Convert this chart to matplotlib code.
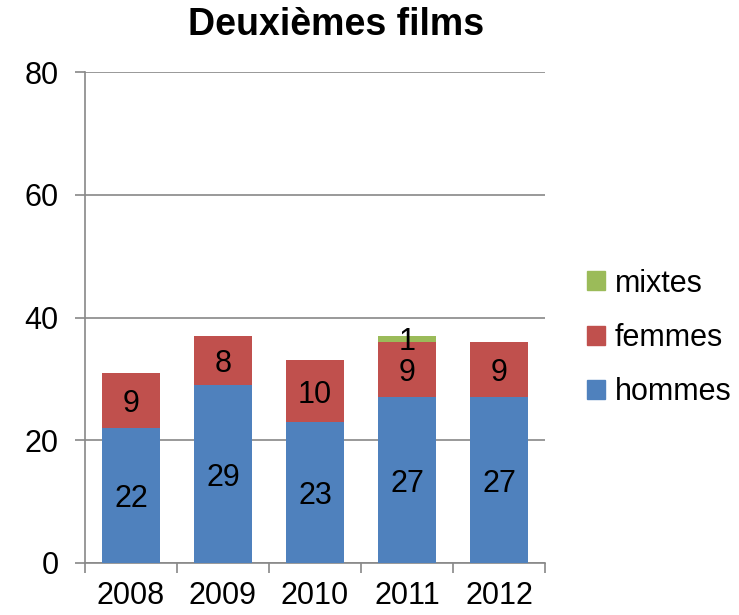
import numpy as np
import matplotlib
matplotlib.use('Agg')
import matplotlib.pyplot as plt
from matplotlib.patches import Patch

plt.rcParams['font.family'] = ['Liberation Sans', 'DejaVu Sans']

years = ['2008', '2009', '2010', '2011', '2012']
hommes = [22, 29, 23, 27, 27]
femmes = [9, 8, 10, 9, 9]
mixtes = [0, 0, 0, 1, 0]

c_h = '#4F81BD'
c_f = '#C0504D'
c_m = '#9BBB59'
grey = '#888888'
fs = 22

fig = plt.figure(figsize=(7.39, 6.15), dpi=100)
ax = fig.add_axes([85/739, 1-563/615, 460/739, 491/615])

x = np.arange(len(years))
w = 0.62
h = np.array(hommes)
f = np.array(femmes)
m = np.array(mixtes)
ax.bar(x, h, w, color=c_h, zorder=3)
ax.bar(x, f, w, bottom=h, color=c_f, zorder=3)
ax.bar(x, m, w, bottom=h + f, color=c_m, zorder=3)

for i in range(len(years)):
    ax.text(x[i], h[i] / 2, str(h[i]), ha='center', va='center_baseline', fontsize=fs, zorder=4)
    ax.text(x[i], h[i] + f[i] / 2, str(f[i]), ha='center', va='center_baseline', fontsize=fs, zorder=4)
    if m[i] > 0:
        ax.text(x[i], h[i] + f[i] + m[i] / 2, str(m[i]), ha='center', va='center_baseline', fontsize=fs, zorder=4)

ax.set_xlim(-0.5, len(years) - 0.5)
ax.set_ylim(0, 80)
ax.set_yticks([0, 20, 40, 60, 80])
ax.yaxis.grid(True, color=grey, linewidth=1.2, zorder=0)
ax.set_xticks(x)
ax.set_xticklabels(years)
ax.set_xticks(np.arange(-0.5, len(years)), minor=True)
ax.tick_params(axis='x', which='major', length=0, labelsize=fs, pad=13)
ax.tick_params(axis='x', which='minor', length=7, color=grey, width=1.2)
ax.tick_params(axis='y', length=7, color=grey, width=1.2, labelsize=fs, pad=12)

for s in ['top', 'right']:
    ax.spines[s].set_visible(False)
for s in ['left', 'bottom']:
    ax.spines[s].set_color(grey)
    ax.spines[s].set_linewidth(1.2)

fig.text(336/739, 1-25/615, 'Deuxièmes films', ha='center', va='center',
         fontsize=27, fontweight='bold')

handles = [Patch(color=c_m), Patch(color=c_f), Patch(color=c_h)]
fig.legend(handles, ['mixtes', 'femmes', 'hommes'], loc='center left',
           bbox_to_anchor=(587/739, 1-338/615), frameon=False, fontsize=fs,
           borderpad=0, borderaxespad=0,
           handlelength=0.6, handleheight=0.6, handletextpad=0.3, labelspacing=0.8)

fig.savefig('out.png', dpi=100)
